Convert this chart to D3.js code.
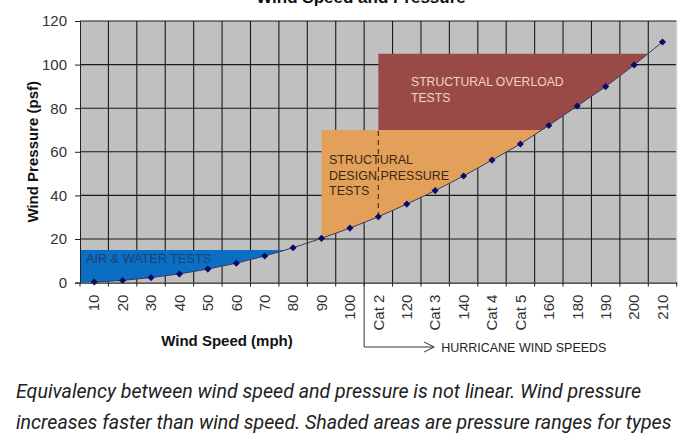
<!DOCTYPE html>
<html>
<head>
<meta charset="utf-8">
<script src="https://cdn.jsdelivr.net/npm/d3@7"></script>
<style>
  html, body { margin: 0; padding: 0; background: #fff; }
  svg { display: block; }
  .caption { font-family: Roboto, "Noto Sans", sans-serif; font-style: italic; font-size: 19.6px; fill: #222; }
</style>
</head>
<body>
<svg id="chart" width="700" height="443"></svg>
<script>
/* --- Data --- */
const speedLabels = ["10", "20", "30", "40", "50", "60", "70", "80", "90", "100",
  "Cat 2", "120", "Cat 3", "140", "Cat 4", "Cat 5", "160", "180", "190", "200", "210"];
const pressures = [0.3, 1, 2.3, 4, 6.2, 8.9, 12.2, 16, 20.3, 25,
  30.2, 36, 42.2, 48.9, 56.2, 63.6, 72.1, 81, 89.9, 99.8, 110.4];
const yTicks = [0, 20, 40, 60, 80, 100, 120];

// test zones: start = category index where the zone begins, lo/hi = pressure range (psf)
const zoneStarts = [-0.5, 8, 10];
const zoneRanges = [[0, 15], [20, 70], [70, 105]];
const zoneLabels = [["AIR & WATER TESTS"], ["STRUCTURAL", "DESIGN PRESSURE", "TESTS"], ["STRUCTURAL OVERLOAD", "TESTS"]];
const hurricaneStart = "Cat 2";

/* --- Style --- */
const COLORS = {
  plotBg: "#c0c0c0",
  grid: "#1a1a1a",
  zones: ["#0a6fc2", "#e3a05a", "#9a4a46"],
  zoneText: ["#1d3f75", "#3b2812", "#f2d2cb"],
  marker: "#0b0b6e",
  line: "#3a3a5a"
};

const svg = d3.select("#chart");
const margin = { left: 80, right: 23.3, top: 21, bottom: 160.4 };
const W = 700, H = 443;

const x = d3.scaleBand().domain(speedLabels).range([margin.left, W - margin.right]).padding(0);
const xi = d3.scaleLinear().domain([-0.5, speedLabels.length - 0.5]).range(x.range());
const y = d3.scaleLinear().domain([0, 120]).range([H - margin.bottom, margin.top]);

// title (cut off at top, as in the source image)
svg.append("text")
  .attr("x", 361).attr("y", 3)
  .attr("text-anchor", "middle")
  .style("font-family", "'Liberation Sans', Arial, sans-serif")
  .style("font-weight", "bold").style("font-size", "17px").style("fill", "#111")
  .text("Wind Speed and Pressure");

// plot background
svg.append("rect")
  .attr("x", x.range()[0]).attr("y", y(120))
  .attr("width", x.range()[1] - x.range()[0]).attr("height", y(0) - y(120))
  .attr("fill", COLORS.plotBg);

// curve helpers
function curveAt(t) {
  const n = pressures.length;
  let i = Math.floor(t);
  i = Math.max(0, Math.min(n - 2, i));
  return pressures[i] + (t - i) * (pressures[i + 1] - pressures[i]);
}
function crossing(v) {
  for (let i = 0; i < pressures.length - 1; i++) {
    if (pressures[i] <= v && pressures[i + 1] > v) {
      return i + (v - pressures[i]) / (pressures[i + 1] - pressures[i]);
    }
  }
  return pressures.length - 1;
}
function zonePolygon(start, lo, hi) {
  const tHi = crossing(hi);
  const pts = [[start, hi], [tHi, hi]];
  let crossed = false;
  for (let i = Math.floor(tHi); i >= 0; i--) {
    if (i <= start) break;
    if (pressures[i] <= lo) {
      pts.push([crossing(lo), lo]);
      crossed = true;
      break;
    }
    pts.push([i, pressures[i]]);
  }
  pts.push([start, crossed ? lo : Math.max(lo, curveAt(start))]);
  return pts;
}

const poly = d3.line().x(d => xi(d[0])).y(d => y(d[1]));

// grid
const grid = svg.append("g").attr("stroke", COLORS.grid).attr("stroke-width", 1.1);
grid.selectAll("line.h").data(yTicks.slice(1)).join("line")
  .attr("x1", x.range()[0]).attr("x2", x.range()[1])
  .attr("y1", d => y(d)).attr("y2", d => y(d));
grid.selectAll("line.v").data(speedLabels.slice(1)).join("line")
  .attr("x1", d => x(d)).attr("x2", d => x(d))
  .attr("y1", y(120)).attr("y2", y(0));

// right border (light)
svg.append("line")
  .attr("x1", x.range()[1]).attr("x2", x.range()[1])
  .attr("y1", y(120)).attr("y2", y(0))
  .attr("stroke", "#d8d8d8").attr("stroke-width", 1.5);

// shaded zones sit above the grid
zoneStarts.forEach((s, k) => {
  svg.append("path")
    .attr("d", poly(zonePolygon(s, zoneRanges[k][0], zoneRanges[k][1])) + "Z")
    .attr("fill", COLORS.zones[k]);
});

// zone labels
const labelPos = [
  { x: 86, y: 263, lh: 15, fs: 12.7 },
  { x: 329, y: 164, lh: 15.5, fs: 12.5 },
  { x: 411, y: 86, lh: 16, fs: 12.2 }
];
zoneLabels.forEach((lines, k) => {
  const t = svg.append("text")
    .attr("x", labelPos[k].x).attr("y", labelPos[k].y)
    .style("font-family", "'Liberation Sans', Arial, sans-serif")
    .style("font-size", labelPos[k].fs + "px").style("fill", COLORS.zoneText[k]);
  lines.forEach((ln, j) => {
    t.append("tspan").attr("x", labelPos[k].x).attr("dy", j === 0 ? 0 : labelPos[k].lh).text(ln);
  });
});

// dashed pointer at Cat 2
const cat2 = speedLabels.indexOf(hurricaneStart);
svg.append("line")
  .attr("x1", xi(cat2)).attr("x2", xi(cat2))
  .attr("y1", y(zoneRanges[1][1]) + 1).attr("y2", y(pressures[cat2]) - 3)
  .attr("stroke", "#5a2a10").attr("stroke-width", 1.2)
  .attr("stroke-dasharray", "5,4");

// series line and markers
svg.append("path")
  .datum(pressures)
  .attr("d", d3.line().x((d, i) => xi(i)).y(d => y(d)))
  .attr("fill", "none").attr("stroke", COLORS.line).attr("stroke-width", 1);

svg.selectAll("path.mk").data(pressures).join("path")
  .attr("transform", (d, i) => `translate(${xi(i)},${y(d)})`)
  .attr("d", d3.symbol(d3.symbolDiamond2, 32))
  .attr("fill", COLORS.marker);

// axes
const axisFont = "'Liberation Sans', Arial, sans-serif";
const yAxis = svg.append("g")
  .attr("transform", `translate(${margin.left},0)`)
  .call(d3.axisLeft(y).tickValues(yTicks).tickSize(5).tickPadding(8));
yAxis.select(".domain").attr("stroke", "#222");
yAxis.selectAll("line").attr("stroke", "#222");
yAxis.selectAll("text").style("font-family", axisFont).style("font-size", "15px").attr("fill", "#333");

const xAxis = svg.append("g")
  .attr("transform", `translate(0,${y(0)})`)
  .call(d3.axisBottom(x).tickSize(0).tickPadding(0));
xAxis.select(".domain").attr("stroke", "#222").attr("stroke-width", 1.2);
xAxis.selectAll("text")
  .style("font-family", axisFont).style("font-size", "15px").attr("fill", "#333")
  .attr("text-anchor", "end")
  .attr("transform", "rotate(-90)")
  .attr("x", -12).attr("y", 0).attr("dy", "0.35em");
// band boundary ticks
svg.append("g").selectAll("line").data(speedLabels.concat(["end"])).join("line")
  .attr("x1", (d, i) => xi(i - 0.5)).attr("x2", (d, i) => xi(i - 0.5))
  .attr("y1", y(0)).attr("y2", y(0) + 4)
  .attr("stroke", "#222");

// axis titles
svg.append("text")
  .attr("transform", `translate(38,${(y(0) + y(120)) / 2}) rotate(-90)`)
  .attr("text-anchor", "middle")
  .style("font-family", axisFont).style("font-weight", "bold").style("font-size", "15px")
  .attr("fill", "#111")
  .text("Wind Pressure (psf)");
svg.append("text")
  .attr("x", 227).attr("y", 346)
  .attr("text-anchor", "middle")
  .style("font-family", axisFont).style("font-weight", "bold").style("font-size", "15px")
  .attr("fill", "#111")
  .text("Wind Speed (mph)");

// hurricane wind speeds bracket
const hx = x(hurricaneStart);
const hy = 347;
svg.append("path")
  .attr("d", `M${hx},${y(0)}V${hy}H${hx + 70}M${hx + 60},${hy - 5}L${hx + 70},${hy}L${hx + 60},${hy + 5}`)
  .attr("fill", "none").attr("stroke", "#333").attr("stroke-width", 1);
svg.append("text")
  .attr("x", hx + 77).attr("y", hy + 5)
  .style("font-family", axisFont).style("font-size", "12.5px").attr("fill", "#222")
  .text("HURRICANE WIND SPEEDS");

// caption
const caption = svg.append("text").attr("class", "caption");
caption.append("tspan").attr("x", 16).attr("y", 398)
  .text("Equivalency between wind speed and pressure is not linear. Wind pressure");
caption.append("tspan").attr("x", 16).attr("y", 429)
  .text("increases faster than wind speed. Shaded areas are pressure ranges for types");
</script>
</body>
</html>
